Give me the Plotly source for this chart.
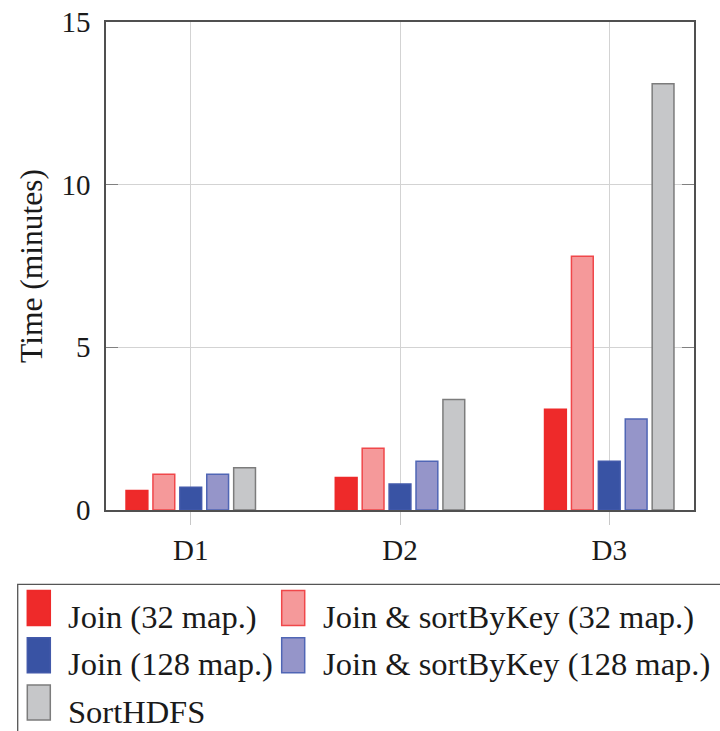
import plotly.graph_objects as go

categories = ["D1", "D2", "D3"]
series_names = [
    "Join (32 map.)",
    "Join & sortByKey (32 map.)",
    "Join (128 map.)",
    "Join & sortByKey (128 map.)",
    "SortHDFS",
]
join_32 = [0.6, 1.0, 3.1]
join_sort_32 = [1.1, 1.9, 7.8]
join_128 = [0.7, 0.8, 1.5]
join_sort_128 = [1.1, 1.5, 2.8]
sort_hdfs = [1.3, 3.4, 13.1]
y_ticks = [0, 5, 10, 15]

values = [join_32, join_sort_32, join_128, join_sort_128, sort_hdfs]
fills = ["#EE2A2A", "#F5999A", "#3953A4", "#9595C9", "#C6C7C9"]
lines = ["#EE2A2A", "#F0474A", "#4259AA", "#5066B5", "#7C7C7C"]

FONT = "Liberation Serif"
TEXT = "#1a1a1a"

W, H = 720, 731
ml, mr, mt, mb = 106, 26, 22, 221
pw = W - ml - mr
ph = H - mt - mb


def px_x(px):
    return (px - ml) / pw


def px_y(py):
    return (H - mb - py) / ph


fig = go.Figure()
for i, (name, vals) in enumerate(zip(series_names, values)):
    fig.add_trace(go.Bar(
        x=categories, y=vals, name=name,
        marker=dict(color=fills[i], line=dict(color=lines[i], width=1.5)),
    ))

# Manual legend (two columns, three rows) inside a framed box
col_sym_left = [27.3, 281.7]
col_text_left = [65.5, 320.5]
row_sym_center = [608, 655.3, 702.6]
row_text_center = [617, 664.3, 711.6]
sym_w, sym_h = 23, 35

shapes = [dict(
    type="rect", xref="paper", yref="paper",
    x0=px_x(17.7), x1=px_x(745), y0=px_y(584.3), y1=px_y(750),
    line=dict(color="#555555", width=1.3), fillcolor="rgba(0,0,0,0)",
    layer="above",
)]
annotations = []
for i, name in enumerate(series_names):
    r, c = divmod(i, 2)
    shapes.append(dict(
        type="rect", xref="paper", yref="paper",
        x0=px_x(col_sym_left[c]), x1=px_x(col_sym_left[c] + sym_w),
        y0=px_y(row_sym_center[r] - sym_h / 2), y1=px_y(row_sym_center[r] + sym_h / 2),
        fillcolor=fills[i], line=dict(color=lines[i], width=1.5), layer="above",
    ))
    annotations.append(dict(
        xref="paper", yref="paper", x=px_x(col_text_left[c]), y=px_y(row_text_center[r]),
        xanchor="left", yanchor="middle", showarrow=False, text=name,
        font=dict(family=FONT, size=32.5, color=TEXT),
    ))

fig.update_layout(
    width=W, height=H,
    margin=dict(l=ml, r=mr, t=mt, b=mb, autoexpand=False),
    paper_bgcolor="white", plot_bgcolor="white",
    showlegend=False,
    barmode="group", bargap=0.357, bargroupgap=0.19,
    font=dict(family=FONT, size=28, color=TEXT),
    xaxis=dict(
        range=[-0.405, 2.405],
        showgrid=True, gridcolor="#D3D3D3", gridwidth=1,
        ticks="outside", ticklen=13, tickcolor="#C8C8C8", tickwidth=1,
        showline=True, linecolor="#505050", linewidth=1.5, mirror=True,
        tickfont=dict(family=FONT, size=29, color=TEXT),
        ticklabelstandoff=0,
        zeroline=False,
    ),
    yaxis=dict(
        range=[0, 15], tickvals=y_ticks,
        showgrid=True, gridcolor="#D3D3D3", gridwidth=1,
        ticks="inside", ticklen=12, tickcolor="#808080", tickwidth=1,
        showline=True, linecolor="#505050", linewidth=1.5, mirror="ticks",
        tickfont=dict(family=FONT, size=29, color=TEXT),
        ticklabelstandoff=8,
        title=dict(text="Time (minutes)", font=dict(family=FONT, size=31.5, color=TEXT), standoff=9),
        zeroline=False,
    ),
    shapes=shapes,
    annotations=annotations,
)

fig.write_html("out.html")
